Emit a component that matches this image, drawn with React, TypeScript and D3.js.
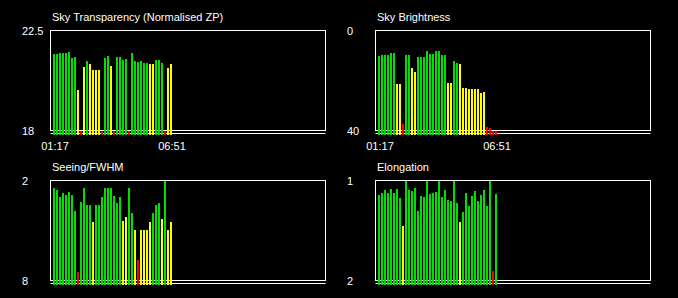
import React from "react";
import * as d3 from "d3";

// ---- Data ----
const timeLabels = ["01:17", "06:51"];
const timeLabelIndex = [0, 39];

const transparency = [21.44, 21.44, 21.49, 21.49, 21.49, 21.53, 21.26, 21.31, 19.82, 17.5, 20.86, 21.13, 20.99, 20.72, 20.72, 20.72, 17.5, 21.26, 21.35, 20.9, 17.5, 21.31, 21.31, 21.17, 21.22, 17.5, 21.49, 21.13, 21.08, 21.13, 21.04, 21.04, 20.99, 20.99, 21.17, 21.17, 21.04, 17.5, 20.81, 20.99];
const transparencyStatus = "ggggggggyrygyyyyrggyrggggrggggggyygggryy".split("");

const brightness = [10.2, 9.8, 9.8, 9.8, 9.0, 9.0, 21.4, 21.4, 37.4, 9.8, 9.8, 15.0, 16.6, 10.6, 10.6, 10.6, 8.2, 9.4, 9.4, 8.2, 8.2, 9.8, 9.8, 21.0, 21.0, 12.2, 13.0, 13.4, 23.0, 23.0, 23.4, 23.4, 23.4, 23.4, 25.0, 24.6, 38.6, 39.0, 41, 41];
const brightnessStatus = "ggggggyyrggyyggggggggggyyggyyyyyyyyyrrrr".split("");

const seeing = [2.45, 2.57, 2.99, 2.75, 2.87, 2.69, 2.87, 3.83, 7.49, 3.29, 2.45, 3.47, 3.47, 4.49, 3.47, 3.47, 2.99, 2.45, 2.45, 2.45, 2.93, 3.35, 2.99, 4.43, 4.19, 2.45, 3.95, 4.97, 6.77, 4.97, 4.97, 4.97, 4.49, 3.95, 3.47, 3.35, 4.31, 1.9, 4.97, 4.49];
const seeingStatus = "ggggggggrggggygggggggggyyggyryyyygggygyy".split("");

const elongation = [1.145, 1.125, 1.095, 1.125, 1.085, 1.125, 1.085, 1.175, 1.455, 0.99, 1.095, 1.105, 1.075, 1.305, 1.155, 1.165, 0.99, 1.135, 1.125, 1.115, 0.99, 1.165, 1.095, 1.195, 1.205, 0.99, 1.225, 1.415, 1.315, 1.125, 1.255, 1.155, 1.105, 1.205, 1.145, 1.095, 1.255, 0.99, 1.905, 1.135];
const elongationStatus = "ggggggggyggggggggggggggggggyggggggggggrg".split("");

const panelTitles = ["Sky Transparency (Normalised ZP)", "Sky Brightness", "Seeing/FWHM", "Elongation"];
const panelTop = ["22.5", "0", "2", "1"];
const panelBottom = ["18", "40", "8", "2"];
const panelDomains: [number, number][] = [[18, 22.5], [40, 0], [8, 2], [2, 1]];

const COLORS: Record<string, string> = { g: "#00e000", y: "#ffff00", r: "#ff0000" };

type PanelProps = {
  fx: number;
  fy: number;
  title: string;
  top: string;
  bottom: string;
  domain: [number, number];
  values: number[];
  status: string[];
  showTimes: boolean;
};

const W = 275;
const H = 100;

function Panel({ fx, fy, title, top, bottom, domain, values, status, showTimes }: PanelProps) {
  const y = d3.scaleLinear().domain(domain).range([fy + H, fy]).clamp(true);
  const x = d3.scaleLinear().domain([0, 91]).range([fx + 2.5, fx + 2.5 + 273]);
  const base = fy + H + 4.5;
  const font = "'Liberation Sans', Arial, sans-serif";
  return (
    <g>
      <text x={fx + 1.5} y={fy - 9.5} fill="#ffffff" fontSize={11} fontFamily={font}>
        {title}
      </text>
      <text x={fx - 28.5} y={fy + 4} fill="#ffffff" fontSize={11} fontFamily={font}>
        {top}
      </text>
      <text x={fx - 28.5} y={fy + H + 4} fill="#ffffff" fontSize={11} fontFamily={font}>
        {bottom}
      </text>
      <rect x={fx} y={fy} width={W} height={H} fill="none" stroke="#ffffff" strokeWidth={1} />
      <line x1={fx} x2={fx + W} y1={fy + H + 3} y2={fy + H + 3} stroke="#ffffff" strokeWidth={1} />
      {values.map((v, i) => {
        const t = Math.round(y(v));
        return (
          <rect
            key={i}
            x={x(i)}
            y={t}
            width={2}
            height={base - t}
            fill={COLORS[status[i]]}
            shapeRendering="crispEdges"
          />
        );
      })}
      {showTimes &&
        timeLabels.map((lab, k) => (
          <text
            key={lab}
            x={x(timeLabelIndex[k]) + 2}
            y={fy + H + 19}
            fill="#ffffff"
            fontSize={11}
            fontFamily={font}
            textAnchor="middle"
          >
            {lab}
          </text>
        ))}
    </g>
  );
}

export default function App() {
  React.useEffect(() => {
    document.body.style.margin = "0";
    document.body.style.background = "#000";
  }, []);
  const series = [transparency, brightness, seeing, elongation];
  const statuses = [transparencyStatus, brightnessStatus, seeingStatus, elongationStatus];
  const pos = [
    [50.5, 30.5],
    [375.5, 30.5],
    [50.5, 180.5],
    [375.5, 180.5],
  ];
  return (
    <svg width={678} height={298} style={{ position: "absolute", left: 0, top: 0, display: "block" }}>
      <rect x={0} y={0} width={678} height={298} fill="#000" />
      {series.map((vals, p) => (
        <Panel
          key={p}
          fx={pos[p][0]}
          fy={pos[p][1]}
          title={panelTitles[p]}
          top={panelTop[p]}
          bottom={panelBottom[p]}
          domain={panelDomains[p]}
          values={vals}
          status={statuses[p]}
          showTimes={p < 2}
        />
      ))}
    </svg>
  );
}
